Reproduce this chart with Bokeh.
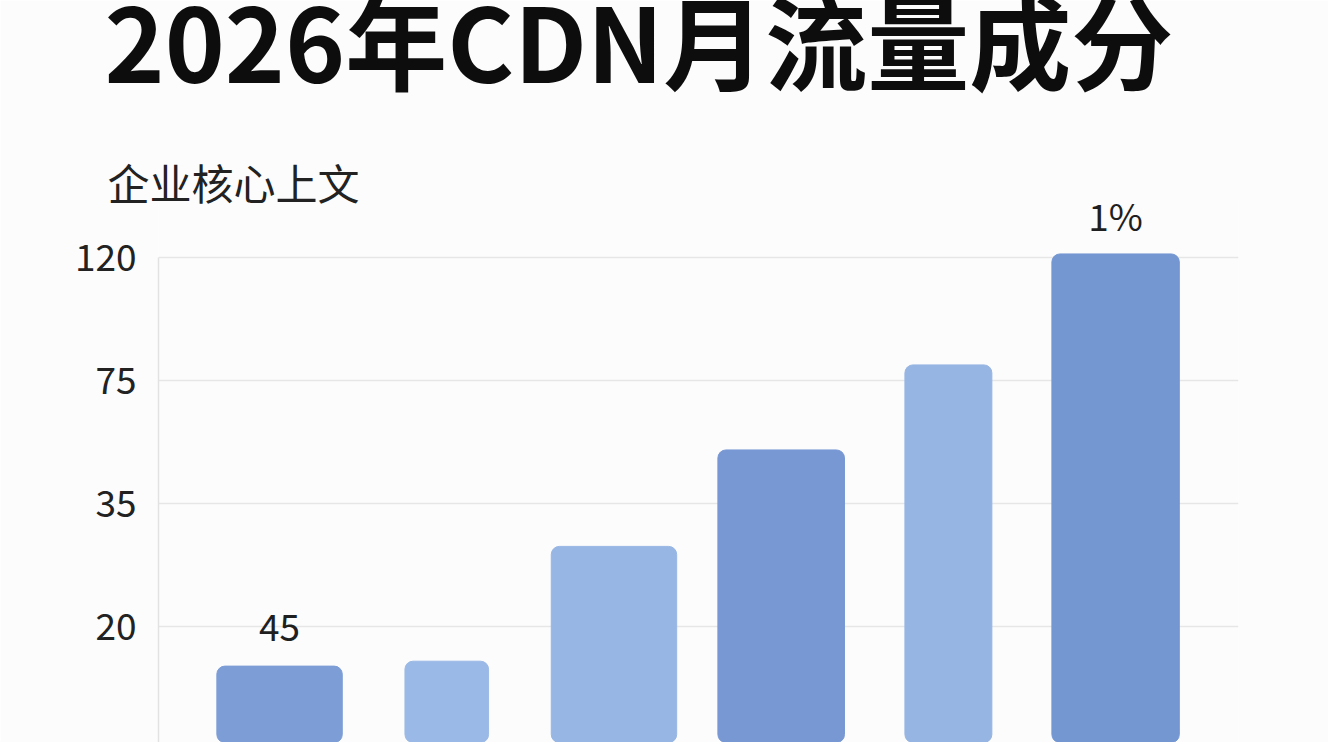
import numpy as np
from bokeh.plotting import figure
from bokeh.models import Range1d, FixedTicker, Label, ColumnDataSource
from bokeh.core.properties import value
from bokeh.embed import file_html
from bokeh.resources import INLINE

# ---------------- data ----------------
title_text = "2026年CDN月流量成分"
axis_title = "企业核心上文"
tick_values = [0, 20, 35, 75, 120]
tick_labels = ["0", "20", "35", "75", "120"]
bar_values = [13.6, 14.4, 29.8, 52.5, 80.8, 121.4]
bar_labels = ["45", "", "", "", "", "1%"]

# ---------------- styles ----------------
bar_colors = ["#7C9DD6", "#9BB9E6", "#97B6E4", "#7898D4", "#97B5E3", "#7497D2"]
bar_widths = [0.75, 0.50, 0.75, 0.757, 0.52, 0.762]
FONT = "Noto Sans CJK SC"
BG = "#fcfcfc"

# piecewise-linear mapping of values onto evenly spaced tick positions
tv = np.array(tick_values, dtype=float)


def to_axis(v):
    v = np.asarray(v, dtype=float)
    idx = np.clip(np.searchsorted(tv, v, side="right") - 1, 0, len(tv) - 2)
    return idx + (v - tv[idx]) / (tv[idx + 1] - tv[idx])


xs = list(range(len(bar_values)))
src = ColumnDataSource(dict(
    x=xs,
    top=to_axis(bar_values),
    color=bar_colors,
    width=bar_widths,
    label=bar_labels,
))

p = figure(
    width=1328, height=742,
    x_range=Range1d(-0.724, 5.735),
    y_range=Range1d(0.059, 4.490),
    x_axis_location=None,
    toolbar_location=None,
    output_backend="svg",
    title=None,
    min_border_left=158, min_border_right=90,
    min_border_top=197, min_border_bottom=0,
)
p.background_fill_color = BG
p.border_fill_color = BG
p.outline_line_color = None

p.vbar(x="x", top="top", bottom=0, width="width", color="color", source=src,
       border_radius=8)

p.text(x="x", y="top", text="label", source=src,
       text_font=value(FONT), text_font_size="37px", text_color="#1f1f1f",
       text_align="center", text_baseline="alphabetic", y_offset=-39)

ax = p.yaxis[0]
ax.ticker = FixedTicker(ticks=list(range(len(tick_values))))
ax.major_label_overrides = {i: t for i, t in enumerate(tick_labels)}
ax.bounds = (0, len(tick_values) - 1)
ax.axis_line_color = "#e2e2e2"
ax.axis_line_width = 1.5
ax.major_tick_line_color = None
ax.minor_tick_line_color = None
ax.major_label_text_font = FONT
ax.major_label_text_font_size = "37px"
ax.major_label_text_color = "#222222"
ax.major_label_standoff = 16

p.xgrid.grid_line_color = None
p.ygrid.grid_line_color = "#e6e6e6"
p.ygrid.grid_line_width = 1.5

p.add_layout(Label(x=-54, y=159.5, x_units="screen", y_units="screen",
                   text=title_text, text_font=FONT,
                   text_font_size="102px", text_font_style="bold",
                   text_color="#0d0d0d", text_baseline="alphabetic",
                   border_line_color=None, background_fill_color=None), "above")
p.add_layout(Label(x=-51, y=-135, x_units="screen", y_units="screen",
                   text=axis_title, text_font="Liberation Sans, Noto Sans CJK SC",
                   text_font_size="42px", text_color="#222222",
                   text_baseline="alphabetic",
                   border_line_color=None, background_fill_color=None), "above")

open("out.html", "w").write(file_html(p, INLINE))
